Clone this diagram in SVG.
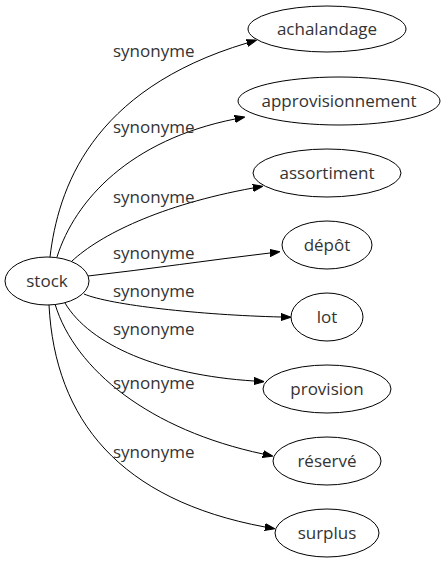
<svg xmlns="http://www.w3.org/2000/svg" width="446" height="563" viewBox="0 0 446 563">
<style>
.node ellipse{fill:#fff;stroke:#000;stroke-width:1}
.node text{font-family:"Open Sans","DejaVu Sans",sans-serif;font-size:17px;fill:#333;text-anchor:middle}
.edges path{fill:none;stroke:#000;stroke-width:1}
.lbl{font-family:"Open Sans","DejaVu Sans",sans-serif;font-size:17px;fill:#333}
</style>
<defs>
<marker id="ah" markerWidth="10" markerHeight="8" refX="0" refY="4" orient="auto" markerUnits="userSpaceOnUse" viewBox="0 0 10 8">
<path d="M0,0.5 L10,4 L0,7.5 z" fill="#000" stroke="#000" stroke-width="1"/>
</marker>
</defs>
<rect width="446" height="563" fill="#fff"/>
<g class="edges">
<path d="M50,257 C58,190 90,90 247,43" marker-end="url(#ah)"/>
<path d="M57,257 C75,200 130,140 235,119" marker-end="url(#ah)"/>
<path d="M72,261 C100,235 160,205 253,188" marker-end="url(#ah)"/>
<path d="M88,276 C150,269 210,260 270,253" marker-end="url(#ah)"/>
<path d="M84,294 C110,305 200,315 281,317" marker-end="url(#ah)"/>
<path d="M65,303 C90,345 160,375 254,381" marker-end="url(#ah)"/>
<path d="M55,304 C75,370 150,430 263,454" marker-end="url(#ah)"/>
<path d="M49,305 C55,420 120,500 265,527" marker-end="url(#ah)"/>
<text class="lbl" x="113" y="57">synonyme</text>
<text class="lbl" x="113" y="133">synonyme</text>
<text class="lbl" x="113" y="203">synonyme</text>
<text class="lbl" x="113" y="259">synonyme</text>
<text class="lbl" x="113" y="297">synonyme</text>
<text class="lbl" x="113" y="335">synonyme</text>
<text class="lbl" x="113" y="389">synonyme</text>
<text class="lbl" x="113" y="458">synonyme</text>
</g>
<g id="stock" class="node"><ellipse cx="47" cy="281" rx="42" ry="24"/><text x="47" y="287">stock</text></g>
<g id="achalandage" class="node"><ellipse cx="327" cy="29" rx="79" ry="23"/><text x="327" y="35">achalandage</text></g>
<g id="approvisionnement" class="node"><ellipse cx="339" cy="101" rx="101" ry="24"/><text x="339" y="107">approvisionnement</text></g>
<g id="assortiment" class="node"><ellipse cx="327" cy="173" rx="74" ry="24"/><text x="327" y="179">assortiment</text></g>
<g id="depot" class="node"><ellipse cx="327" cy="245" rx="45" ry="24"/><text x="327" y="251">dépôt</text></g>
<g id="lot" class="node"><ellipse cx="327" cy="317" rx="36" ry="24"/><text x="327" y="323">lot</text></g>
<g id="provision" class="node"><ellipse cx="327" cy="389" rx="64" ry="24"/><text x="327" y="395">provision</text></g>
<g id="reserve" class="node"><ellipse cx="327" cy="461" rx="54" ry="24"/><text x="327" y="467">réservé</text></g>
<g id="surplus" class="node"><ellipse cx="327" cy="533" rx="52" ry="24"/><text x="327" y="539">surplus</text></g>
</svg>
